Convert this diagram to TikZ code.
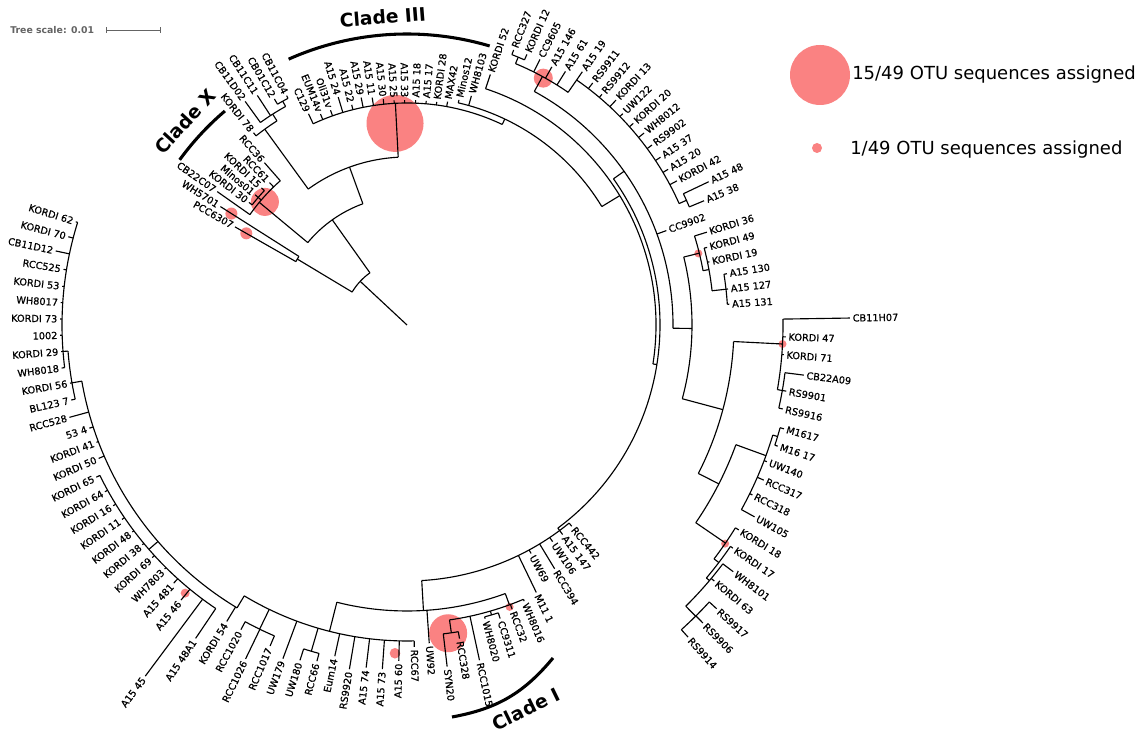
\documentclass[tikz,border=0pt]{standalone}
\usepackage{fontspec}
\setmainfont{DejaVu Sans}
\newfontfamily\labfont[FakeBold=0.7]{DejaVu Sans}
\definecolor{otu}{RGB}{250,130,130}
\definecolor{scalegray}{RGB}{100,100,100}
\tikzset{
  br/.style={line width=0.85pt},
  lab/.style={font=\labfont\fontsize{7.3}{8}\selectfont, inner sep=0pt},
  cladearc/.style={line width=2.3pt},
  cladelab/.style={font=\fontsize{14}{16}\selectfont\bfseries, inner sep=0pt},
  otudot/.style={fill=otu, draw=none},
  legtext/.style={font=\fontsize{13.5}{16}\selectfont, inner sep=0pt, anchor=west}
}
\newcommand{\TArc}[3]{\draw[br] (#2:#1) arc[start angle=#2, end angle=#3, radius=#1];}
\newcommand{\TRad}[3]{\draw[br] (#1:#2) -- (#1:#3);}
\newcommand{\TDot}[3]{\fill[otudot] (#2:#1) circle[radius=#3];}
\newcommand{\TLeaf}[5]{%
  \draw[br] (#2:#3) -- (#2:#4);%
  \pgfmathsetmacro{\tlcos}{cos(#2)}%
  \pgfmathsetmacro{\tlr}{#4+2.5}%
  \ifdim\tlcos pt>0pt
    \node[lab,anchor=west,rotate=#2] (#1) at (#2:\tlr) {#5};%
  \else
    \pgfmathsetmacro{\tlrot}{#2+180}%
    \node[lab,anchor=east,rotate=\tlrot] (#1) at (#2:\tlr) {#5};%
  \fi}
\begin{document}
\begin{tikzpicture}[x=0.75pt,y=0.75pt]
\useasboundingbox (0,0) rectangle (1148,734);
\fill[white] (0,0) rectangle (1148,734);
% tree scale
\node[anchor=west, font=\fontsize{7}{8}\selectfont\bfseries, text=scalegray, inner sep=0pt] (ts) at (10,704) {Tree scale: 0.01};
\draw[scalegray, line width=0.6pt] (106,704) -- (160,704);
\draw[scalegray, line width=0.6pt] (106,701) -- (106,707);
\draw[scalegray, line width=0.6pt] (160,701) -- (160,707);
% legend
\fill[otudot] (820,659) circle[radius=30];
\node[legtext] (leg1) at (852,659) {15/49 OTU sequences assigned};
\fill[otudot] (817,586) circle[radius=5];
\node[legtext] (leg2) at (850,584) {1/49 OTU sequences assigned};
% Clade I
\draw[cladearc] (452,17) to[bend right=20] (553,76);
\node[cladelab, rotate=26] (c1) at (526,25) {Clade I};
\begin{scope}[shift={(407,409)}]
% OTU dots
\TDot{185}{150.3}{6}
\TDot{208}{147.6}{6}
\TDot{188}{139.1}{14}
\TDot{202}{93.4}{28.5}
\TDot{282}{61.1}{9.5}
\TDot{300}{13.8}{4}
\TDot{376}{-2.9}{4}
\TDot{386}{-34.5}{4}
\TDot{300}{-70}{4}
\TDot{311}{-82.4}{19}
\TDot{328.5}{-92.1}{5.3}
\TDot{348}{-129.6}{4.5}
% clade arcs
\draw[cladearc] (114:291) arc[start angle=114,end angle=73.5,radius=291];
\node[cladelab, rotate=4.5] (c3) at (94.5:309) {Clade III};
\draw[cladearc] (144:281) arc[start angle=144,end angle=130.4,radius=281];
\node[cladelab, rotate=47.5] (cx) at (137.5:301) {Clade X};
% root
\draw[br] (0,0) -- (137:64);
\TArc{64}{149}{125.4}
% A
\TRad{149}{64}{128}
\TArc{128}{150.3}{147.6}
\TLeaf{l1}{150.3}{128}{198}{PCC6307}
\TLeaf{l2}{147.6}{128}{221}{WH5701}
% B
\TRad{125.4}{64}{129}
\TArc{129}{140.3}{110}
\TRad{140.3}{129}{192}
\TArc{192}{144.9}{131.3}
\TLeaf{l3}{144.9}{192}{232}{CB22C07}
\TRad{139.4}{192}{196}
\TArc{196}{142.2}{136.7}
\TLeaf{l4}{142.2}{196}{200}{KORDI 30}
\TLeaf{l5}{139.4}{196}{200}{Minos01}
\TLeaf{l6}{136.7}{196}{200}{KORDI 15}
\TLeaf{l7}{134.0}{192}{198}{RCC61}
\TLeaf{l8}{131.3}{192}{216}{RCC36}
\TRad{110}{129}{168}
\TArc{168}{126}{93}
\TRad{126}{168}{242}
\TArc{242}{128.6}{122.5}
\TLeaf{l9}{128.6}{242}{246}{KORDI 78}
\TRad{122.5}{242}{250}
\TArc{250}{125.9}{119.05}
\TLeaf{l10}{125.9}{250}{276}{CB11D02}
\TLeaf{l11}{123.1}{250}{274}{CB11C11}
\TRad{119.05}{250}{256}
\TArc{256}{120.4}{117.7}
\TLeaf{l12}{120.4}{256}{262}{CB01C12}
\TLeaf{l13}{117.7}{256}{259}{CB11C04}
% Clade III backbone
\TRad{93}{168}{222}
\TArc{222}{115}{64.6}
\TRad{64.6}{222}{228}
\TLeaf{l14}{115.0}{222}{233}{C129}
\TLeaf{l15}{112.3}{222}{228}{EUM14v}
\TLeaf{l16}{109.6}{222}{228}{Oli31v}
\TLeaf{l17}{106.8}{222}{238}{A15 24}
\TLeaf{l18}{104.1}{222}{227}{A15 22}
\TLeaf{l19}{101.4}{222}{232}{A15 29}
\TLeaf{l20}{98.7}{222}{230}{A15 11}
\TLeaf{l21}{96.0}{222}{227}{A15 30}
\TLeaf{l22}{93.3}{222}{225}{A15 25}
\TLeaf{l23}{90.6}{222}{225}{A15 33}
\TLeaf{l24}{87.8}{222}{225}{A15 18}
\TLeaf{l25}{85.1}{222}{225}{A15 17}
\TLeaf{l26}{82.4}{222}{225}{KORDI 28}
\TLeaf{l27}{79.7}{222}{227}{MAX42}
\TArc{228}{77.0}{31.3}
\TLeaf{l28}{77.0}{228}{231}{Minos12}
\TLeaf{l29}{74.3}{228}{238}{WH8103}
% E
\TRad{31.3}{228}{249}
\TArc{249}{71.6}{-9}
\TLeaf{l30}{71.6}{249}{264}{KORDI 52}
% H
\TRad{-9}{249}{253}
\TArc{253}{35.3}{-53.4}
% F
\TRad{35.3}{253}{266}
\TArc{266}{61.4}{-0.7}
% Q
\TRad{61.4}{266}{283}
\TArc{283}{67.45}{55.3}
\TRad{67.45}{283}{290}
\TArc{290}{68.8}{66.1}
\TLeaf{l31}{68.8}{290}{295}{RCC327}
\TLeaf{l32}{66.1}{290}{296}{KORDI 12}
\TLeaf{l33}{63.4}{283}{297}{CC9605}
\TLeaf{l34}{60.7}{283}{296}{A15 146}
\TLeaf{l35}{58.0}{283}{299}{A15 61}
\TRad{55.3}{283}{298}
\TArc{298}{55.3}{24.05}
\TLeaf{l36}{55.3}{298}{308}{A15 19}
\TLeaf{l37}{52.5}{298}{305}{RS9911}
\TLeaf{l38}{49.8}{298}{302}{RS9912}
\TLeaf{l39}{47.1}{298}{307}{KORDI 13}
\TLeaf{l40}{44.4}{298}{302}{UW122}
\TLeaf{l41}{41.7}{298}{303}{KORDI 20}
\TLeaf{l42}{39.0}{298}{305}{WH8012}
\TLeaf{l43}{36.3}{298}{304}{RS9902}
\TLeaf{l44}{33.5}{298}{304}{A15 37}
\TLeaf{l45}{30.8}{298}{304}{A15 20}
\TLeaf{l46}{28.1}{298}{306}{KORDI 42}
\TRad{24.05}{298}{306}
\TArc{306}{25.4}{22.7}
\TLeaf{l47}{25.4}{306}{334}{A15 48}
\TLeaf{l48}{22.7}{306}{322}{A15 38}
\TLeaf{l49}{20.0}{266}{276}{CC9902}
% G
\TRad{-0.7}{266}{285}
\TArc{285}{13.8}{-15}
\TRad{13.8}{285}{301}
\TArc{301}{17.2}{10.4}
\TLeaf{l50}{17.2}{301}{314}{KORDI 36}
\TRad{10.4}{301}{307}
\TArc{307}{14.5}{6.4}
\TLeaf{l51}{14.5}{307}{310}{KORDI 49}
\TLeaf{l52}{11.8}{307}{309}{KORDI 19}
\TRad{6.4}{307}{321}
\TArc{321}{9.1}{3.7}
\TLeaf{l53}{9.1}{321}{324}{A15 130}
\TLeaf{l54}{6.4}{321}{323}{A15 127}
\TLeaf{l55}{3.7}{321}{323}{A15 131}
% G2
\TRad{-15}{285}{327}
\TArc{327}{-2.9}{-27}
\TRad{-2.9}{327}{376}
\TArc{376}{0.9}{-9.9}
\TLeaf{l56}{0.9}{376}{443}{CB11H07}
\TLeaf{l57}{-1.8}{376}{379}{KORDI 47}
\TLeaf{l58}{-4.5}{376}{378}{KORDI 71}
\TRad{-9.9}{376}{381}
\TArc{381}{-7.2}{-12.6}
\TLeaf{l59}{-7.2}{381}{400}{CB22A09}
\TLeaf{l60}{-9.9}{381}{385}{RS9901}
\TLeaf{l61}{-12.6}{381}{385}{RS9916}
\TRad{-27}{327}{350}
\TArc{350}{-20}{-34.4}
\TRad{-20}{350}{382}
\TArc{382}{-16.75}{-28.9}
\TRad{-16.75}{382}{387}
\TArc{387}{-15.4}{-18.1}
\TLeaf{l62}{-15.4}{387}{391}{M1617}
\TLeaf{l63}{-18.1}{387}{390}{M16 17}
\TLeaf{l64}{-20.8}{382}{385}{UW140}
\TLeaf{l65}{-23.5}{382}{389}{RCC317}
\TLeaf{l66}{-26.2}{382}{385}{RCC318}
\TLeaf{l67}{-28.9}{382}{397}{UW105}
\TRad{-34.4}{350}{386}
\TArc{386}{-31.7}{-37.3}
\TLeaf{l68}{-31.7}{386}{390}{KORDI 18}
\TRad{-37.3}{386}{392}
\TArc{392}{-34.4}{-40.2}
\TLeaf{l69}{-34.4}{392}{395}{KORDI 17}
\TRad{-40.2}{392}{396}
\TArc{396}{-37.1}{-45.25}
\TLeaf{l70}{-37.1}{396}{409}{WH8101}
\TLeaf{l71}{-39.8}{396}{400}{KORDI 63}
\TRad{-45.25}{396}{410}
\TArc{410}{-42.5}{-48.0}
\TLeaf{l72}{-42.5}{410}{420}{RS9917}
\TLeaf{l73}{-45.2}{410}{420}{RS9906}
\TLeaf{l74}{-48.0}{410}{420}{RS9914}
% I
\TRad{-53.4}{253}{256}
\TArc{256}{-50.7}{-86.7}
\TLeaf{l75}{-50.7}{256}{260}{RCC442}
\TLeaf{l76}{-53.4}{256}{261}{A15 147}
\TLeaf{l77}{-56.1}{256}{261}{UW106}
\TLeaf{l78}{-58.8}{256}{285}{RCC394}
\TLeaf{l79}{-61.5}{256}{260}{UW69}
\TLeaf{l80}{-64.2}{256}{297}{M11 1}
% M
\TRad{-86.7}{256}{286}
\TArc{286}{-69.9}{-104.2}
\TRad{-69.9}{286}{298}
\TArc{298}{-67.0}{-81.8}
\TLeaf{l81}{-67.0}{298}{300}{WH8016}
\TLeaf{l82}{-69.7}{298}{303}{RCC32}
\TRad{-73.75}{298}{302}
\TArc{302}{-72.4}{-75.1}
\TLeaf{l83}{-72.4}{302}{308}{CC9311}
\TLeaf{l84}{-75.1}{302}{304}{WH8020}
\TLeaf{l85}{-77.8}{298}{343}{RCC1015}
\TRad{-81.8}{298}{311}
\TArc{311}{-80.5}{-83.3}
\TLeaf{l86}{-80.5}{311}{318}{RCC328}
\TLeaf{l87}{-83.3}{311}{344}{SYN20}
\TLeaf{l88}{-86.0}{286}{319}{UW92}
% M2
\TRad{-104.2}{286}{316}
\TArc{316}{-88.7}{-121}
\TLeaf{l89}{-88.7}{316}{322}{RCC67}
\TLeaf{l90}{-91.4}{316}{336}{A15 60}
\TLeaf{l91}{-94.1}{316}{345}{A15 73}
\TLeaf{l92}{-96.8}{316}{345}{A15 74}
\TLeaf{l93}{-99.5}{316}{349}{RS9920}
\TLeaf{l94}{-102.3}{316}{339}{Eum14}
\TRad{-106.35}{316}{340}
\TArc{340}{-105.0}{-107.7}
\TLeaf{l95}{-105.0}{340}{348}{RCC66}
\TLeaf{l96}{-107.7}{340}{352}{UW180}
\TLeaf{l97}{-110.4}{316}{356}{UW179}
\TRad{-115.85}{316}{338}
\TArc{338}{-113.1}{-118.6}
\TLeaf{l98}{-113.1}{338}{349}{RCC1017}
\TLeaf{l99}{-115.8}{338}{371}{RCC1026}
\TLeaf{l100}{-118.6}{338}{347}{RCC1020}
% LN
\TRad{-121}{316}{330}
\TArc{330}{-121}{-170.2}
\TLeaf{l101}{-121.3}{330}{347}{KORDI 54}
\TRad{-139}{330}{342}
\TArc{342}{-124}{-153.9}
\TLeaf{l102}{-124.0}{342}{378}{A15 48A1}
\TLeaf{l103}{-126.7}{342}{438}{A15 45}
\TLeaf{l104}{-129.4}{342}{356}{A15 46}
\TLeaf{l105}{-132.1}{342}{348}{A15 481}
\TLeaf{l106}{-134.8}{342}{344}{WH7803}
\TLeaf{l107}{-137.6}{342}{345}{KORDI 69}
\TLeaf{l108}{-140.3}{342}{344}{KORDI 38}
\TLeaf{l109}{-143.0}{342}{344}{KORDI 48}
\TLeaf{l110}{-145.7}{342}{345}{KORDI 11}
\TLeaf{l111}{-148.4}{342}{345}{KORDI 16}
\TLeaf{l112}{-151.1}{342}{345}{KORDI 64}
\TLeaf{l113}{-153.9}{342}{346}{KORDI 65}
\TLeaf{l114}{-156.6}{330}{336}{KORDI 50}
\TLeaf{l115}{-159.3}{330}{332}{KORDI 41}
\TLeaf{l116}{-162.0}{330}{334}{53 4}
\TLeaf{l117}{-164.7}{330}{350}{RCC528}
\TRad{-170.2}{330}{340}
\TArc{340}{-167.4}{-175.6}
\TLeaf{l118}{-167.4}{340}{344}{BL123 7}
\TLeaf{l119}{-170.2}{340}{342}{KORDI 56}
\TRad{-175.6}{340}{345}
\TArc{345}{-172.9}{-197.3}
\TLeaf{l120}{-172.9}{345}{348}{WH8018}
\TLeaf{l121}{-175.6}{345}{347}{KORDI 29}
\TLeaf{l122}{-178.3}{345}{347}{1002}
\TLeaf{l123}{-181.0}{345}{347}{KORDI 73}
\TLeaf{l124}{-183.7}{345}{347}{WH8017}
\TLeaf{l125}{-186.4}{345}{347}{KORDI 53}
\TLeaf{l126}{-189.2}{345}{348}{RCC525}
\TLeaf{l127}{-191.9}{345}{359}{CB11D12}
\TLeaf{l128}{-194.6}{345}{350}{KORDI 70}
\TLeaf{l129}{-197.3}{345}{347}{KORDI 62}
\end{scope}
\end{tikzpicture}
\end{document}
